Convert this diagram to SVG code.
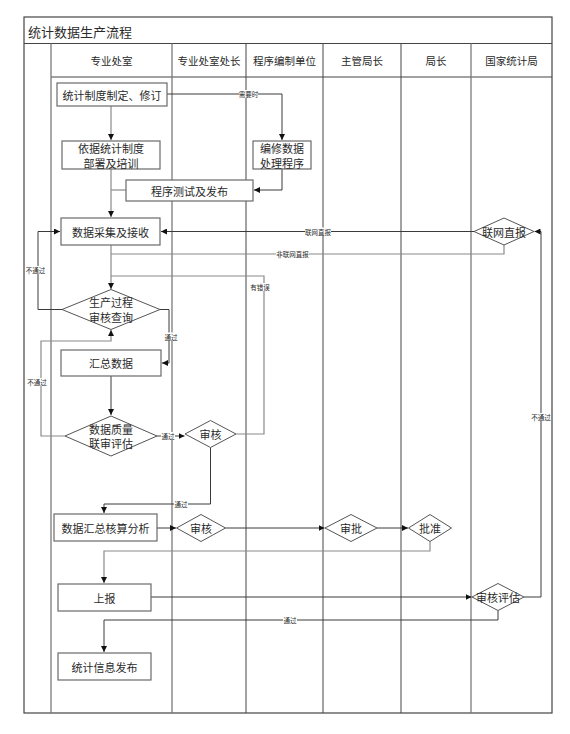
<svg xmlns="http://www.w3.org/2000/svg" width="570" height="734" viewBox="0 0 570 734">
<style>
text{font-family:"Noto Sans CJK SC","Noto Sans",sans-serif;fill:#2a2a2a;text-anchor:middle;dominant-baseline:central}
.t{font-size:13px}
.h{font-size:10.5px}
.n{font-size:11px}
.s{font-size:6.5px}
.box{fill:#fff;stroke:#6a6a6a;stroke-width:1.2}
.dia{fill:#fff;stroke:#555;stroke-width:1}
.lane{stroke:#444;stroke-width:1;fill:none}
.laneg{stroke:#7a7a7a;stroke-width:1.3;fill:none}
.c{fill:none;stroke:#3a3a3a;stroke-width:1}
.cg{fill:none;stroke:#8a8a8a;stroke-width:1.2}
.lb{fill:#fff}
</style>
<defs>
<marker id="a" viewBox="0 0 10 10" refX="10" refY="5" markerWidth="6" markerHeight="6" markerUnits="userSpaceOnUse" orient="auto">
<path d="M0,0 L10,5 L0,10 z" fill="#111"/>
</marker>
</defs>
<rect width="570" height="734" fill="#fff"/>
<g id="frame">
<rect x="24" y="17" width="528" height="696" fill="none" stroke="#444" stroke-width="1.2"/>
<line x1="24" y1="43.5" x2="552" y2="43.5" class="lane" stroke-width="1.5"/>
<line x1="51" y1="77" x2="552" y2="77" class="lane"/>
<line x1="51" y1="43.5" x2="51" y2="713" class="laneg"/>
<line x1="172" y1="43.5" x2="172" y2="713" class="laneg"/>
<line x1="246" y1="43.5" x2="246" y2="713" class="lane"/>
<line x1="323" y1="43.5" x2="323" y2="713" class="lane"/>
<line x1="401" y1="43.5" x2="401" y2="713" class="lane"/>
<line x1="471" y1="43.5" x2="471" y2="713" class="laneg"/>
<text x="80" y="31" class="t">统计数据生产流程</text>
<text x="111.5" y="60" class="h">专业处室</text>
<text x="209" y="60" class="h">专业处室处长</text>
<text x="284.5" y="60" class="h">程序编制单位</text>
<text x="362" y="60" class="h">主管局长</text>
<text x="436" y="60" class="h">局长</text>
<text x="511.5" y="60" class="h">国家统计局</text>
</g>
<g id="connectors">
<path class="c" d="M167,94 H282 V140" marker-end="url(#a)"/>
<path class="cg" d="M111,106 V140" marker-end="url(#a)"/>
<path class="c" d="M282,169 V190 H254" marker-end="url(#a)"/>
<path class="cg" d="M111,169 V217" marker-end="url(#a)"/>
<path class="cg" d="M126,190 H111"/>
<path class="c" d="M474,231.5 H161" marker-end="url(#a)"/>
<path class="cg" d="M504,245 V254 H111"/>
<path class="cg" d="M111,245 V289" marker-end="url(#a)"/>
<path class="cg" d="M236,434 H264 V276 H111"/>
<path class="c" d="M62,309.5 H38 V231.5 H60" marker-end="url(#a)"/>
<path class="c" d="M160,309.5 H169 V363 H162" marker-end="url(#a)"/>
<path class="c" d="M111,376 V415" marker-end="url(#a)"/>
<path class="cg" d="M65,436 H41 V341 H111 V330" marker-end="url(#a)"/>
<path class="c" d="M157,436 H184.5" marker-end="url(#a)"/>
<path class="c" d="M210.5,447.5 V504 H104 V513" marker-end="url(#a)"/>
<path class="c" d="M157,528 H176" marker-end="url(#a)"/>
<path class="c" d="M225.5,528 H324.5" marker-end="url(#a)"/>
<path class="c" d="M377,528 H408" marker-end="url(#a)"/>
<path class="cg" d="M430,541.5 V551 H104 V583" marker-end="url(#a)"/>
<path class="c" d="M151,597 H471.5" marker-end="url(#a)"/>
<path class="c" d="M524,597 H541 V231.5 H534.5" marker-end="url(#a)"/>
<path class="c" d="M498,610.5 V620 H104 V652" marker-end="url(#a)"/>
<rect class="lb" x="239" y="90" width="19" height="8"/><text x="248.5" y="94" class="s">需要时</text>
<rect class="lb" x="305" y="227.5" width="26" height="8"/><text x="318" y="231.5" class="s">联网直报</text>
<rect class="lb" x="276" y="250" width="33" height="8"/><text x="292.5" y="254" class="s">非联网直报</text>
<rect class="lb" x="250" y="283" width="20" height="8"/><text x="260" y="287" class="s">有错误</text>
<rect class="lb" x="26" y="266" width="20" height="8"/><text x="35.5" y="270" class="s">不通过</text>
<rect class="lb" x="164" y="332.5" width="14" height="8"/><text x="171" y="336.5" class="s">通过</text>
<rect class="lb" x="27" y="378" width="20" height="8"/><text x="37" y="382" class="s">不通过</text>
<rect class="lb" x="161" y="432" width="14" height="8"/><text x="168" y="436" class="s">通过</text>
<rect class="lb" x="174" y="500" width="14" height="8"/><text x="181" y="504" class="s">通过</text>
<rect class="lb" x="531" y="413" width="20" height="8"/><text x="541" y="417" class="s">不通过</text>
<rect class="lb" x="283" y="616" width="14" height="8"/><text x="290" y="620" class="s">通过</text>
</g>
<g id="n1"><rect class="box" x="57" y="83" width="110" height="23" stroke="#222" stroke-width="1.5"/><text x="112" y="94.5" class="n" font-size="11.5">统计制度制定、修订</text></g>
<g id="n2"><rect class="box" x="62" y="141" width="98" height="28"/><text x="111" y="148" class="n">依据统计制度</text><text x="111" y="162.5" class="n">部署及培训</text></g>
<g id="n3"><rect class="box" x="253" y="141" width="58" height="28"/><text x="282" y="148" class="n">编修数据</text><text x="282" y="162.5" class="n">处理程序</text></g>
<g id="n4"><rect class="box" x="126" y="180" width="127" height="21"/><text x="189.5" y="190.5" class="n">程序测试及发布</text></g>
<g id="n5"><rect class="box" x="61" y="218" width="99" height="27"/><text x="110.5" y="231.5" class="n">数据采集及接收</text></g>
<g id="n6"><polygon class="dia" points="474,231.5 504,218 534,231.5 504,245"/><text x="504" y="231.5" class="n" font-size="10">联网直报</text></g>
<g id="n7"><polygon class="dia" points="62,309.5 111,289.5 160,309.5 111,329.5"/><text x="111" y="302" class="n">生产过程</text><text x="111" y="316.5" class="n">审核查询</text></g>
<g id="n8"><rect class="box" x="61" y="350" width="100" height="26"/><text x="111" y="363" class="n">汇总数据</text></g>
<g id="n9"><polygon class="dia" points="65,436 111,416 157,436 111,456"/><text x="111" y="428.5" class="n">数据质量</text><text x="111" y="443" class="n">联审评估</text></g>
<g id="n10"><polygon class="dia" points="185,434 210.5,420.5 236,434 210.5,447.5"/><text x="210.5" y="434" class="n">审核</text></g>
<g id="n11"><rect class="box" x="54" y="514" width="103" height="27"/><text x="105.5" y="527.5" class="n">数据汇总核算分析</text></g>
<g id="n12"><polygon class="dia" points="176.5,528 201,514.5 225.5,528 201,541.5"/><text x="201" y="528" class="n">审核</text></g>
<g id="n13"><polygon class="dia" points="325,528 351,514.5 377,528 351,541.5"/><text x="351" y="528" class="n">审批</text></g>
<g id="n14"><polygon class="dia" points="408.5,528 430,514.5 451.5,528 430,541.5"/><text x="430" y="528" class="n">批准</text></g>
<g id="n15"><rect class="box" x="58" y="584" width="93" height="27"/><text x="104.5" y="597.5" class="n">上报</text></g>
<g id="n16"><polygon class="dia" points="472,597 498,583.5 524,597 498,610.5"/><text x="498" y="597" class="n" font-size="10.5">审核评估</text></g>
<g id="n17"><rect class="box" x="58" y="653" width="93" height="27"/><text x="104.5" y="666.5" class="n">统计信息发布</text></g>
</svg>
